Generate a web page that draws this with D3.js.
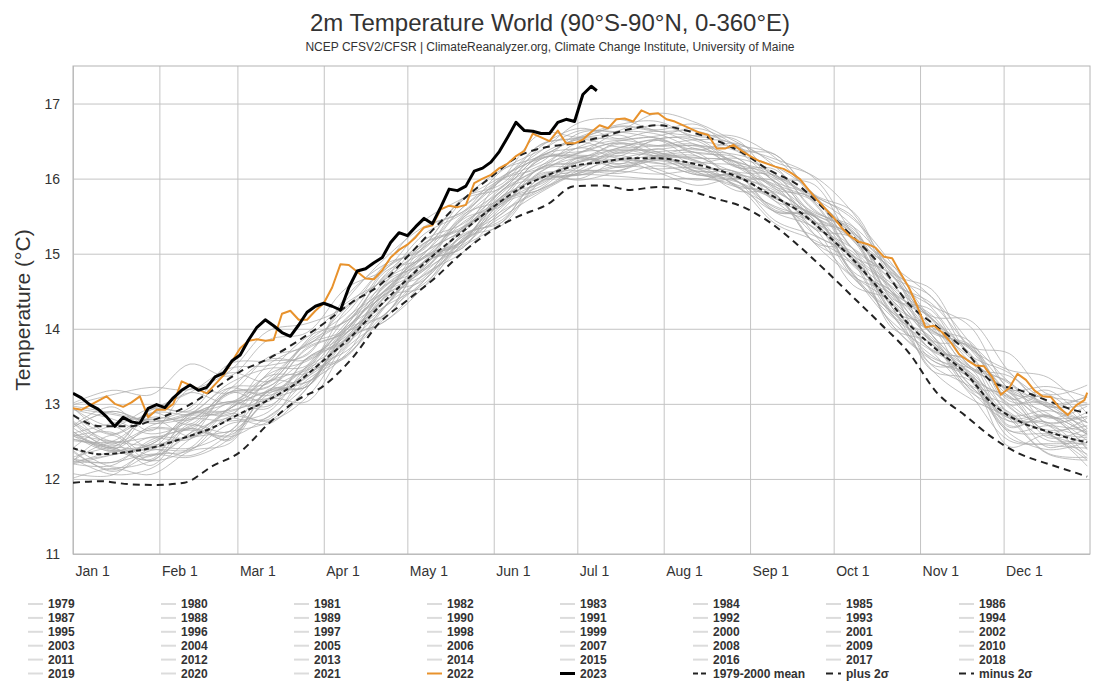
<!DOCTYPE html>
<html>
<head>
<meta charset="utf-8">
<script src="https://cdn.jsdelivr.net/npm/d3@7"></script>
<style>
body { margin:0; background:#fff; font-family:"Liberation Sans", Arial, sans-serif; }
#chart { width:1100px; height:700px; }
.axis text { font-size:14px; fill:#333; }
.axis line { stroke:#c4c4c4; }
.axis .domain { display:none; }
.legend text { font-size:12px; font-weight:bold; fill:#333; }
</style>
</head>
<body>
<div id="chart"></div>
<script>
// ---- data ----
const monthLabels = ['Jan 1','Feb 1','Mar 1','Apr 1','May 1','Jun 1','Jul 1','Aug 1','Sep 1','Oct 1','Nov 1','Dec 1'];
const monthDays = [0,31,59,90,120,151,181,212,243,273,304,334];
const yTicks = [11,12,13,14,15,16,17];

// mean and +/- 2 sigma, every 10 days
const refDays = [0,10,20,30,40,50,60,70,80,90,100,110,120,130,140,150,160,170,180,190,200,210,220,230,240,250,260,270,280,290,300,310,320,330,340,350,360,364];
const mean7900 = [12.41,12.33,12.36,12.43,12.55,12.68,12.87,13.05,13.27,13.58,13.90,14.30,14.66,15.00,15.30,15.60,15.86,16.04,16.17,16.22,16.27,16.27,16.22,16.13,16.00,15.79,15.58,15.27,14.92,14.50,14.06,13.72,13.42,13.00,12.76,12.63,12.52,12.49];
const plus2sd = [12.85,12.70,12.70,12.80,12.95,13.18,13.43,13.60,13.82,14.07,14.35,14.58,14.96,15.35,15.72,16.02,16.30,16.42,16.47,16.56,16.66,16.71,16.64,16.52,16.35,16.11,15.92,15.58,15.22,14.84,14.33,14.03,13.72,13.29,13.18,13.04,12.91,12.88];
const minus2sd = [11.95,11.97,11.93,11.92,11.95,12.17,12.36,12.73,13.04,13.24,13.60,14.08,14.38,14.68,15.02,15.30,15.50,15.65,15.90,15.91,15.85,15.89,15.85,15.74,15.63,15.42,15.12,14.78,14.42,14.06,13.68,13.15,12.85,12.55,12.33,12.20,12.08,12.03];

// 2022 and 2023, every 3 days
const days2022 = d3.range(0, 364, 3).concat([364]);
const temp2022 = [12.94,12.92,12.98,13.04,13.10,13.00,12.96,13.02,13.10,12.82,12.92,12.92,13.00,13.30,13.25,13.19,13.14,13.26,13.38,13.56,
  13.74,13.84,13.86,13.84,13.85,14.20,14.24,14.12,14.12,14.24,14.34,14.55,14.86,14.85,14.76,14.67,14.66,14.78,14.95,15.05,
  15.12,15.22,15.35,15.38,15.59,15.64,15.62,15.65,15.94,16.00,16.05,16.14,16.20,16.30,16.37,16.60,16.55,16.50,16.64,16.47,
  16.47,16.52,16.62,16.71,16.67,16.79,16.80,16.76,16.91,16.86,16.87,16.79,16.76,16.71,16.66,16.61,16.58,16.40,16.40,16.45,
  16.37,16.30,16.24,16.20,16.16,16.13,16.07,15.99,15.85,15.72,15.60,15.48,15.34,15.23,15.16,15.13,15.08,14.96,14.94,14.74,
  14.55,14.30,14.02,14.04,13.95,13.82,13.66,13.58,13.51,13.50,13.35,13.12,13.21,13.40,13.32,13.18,13.10,13.09,12.95,12.85,
  12.98,13.05,13.15];
const days2023 = d3.range(0, 187, 3).concat([188]);
const temp2023 = [13.14,13.08,12.99,12.93,12.83,12.70,12.82,12.76,12.74,12.94,12.99,12.95,13.08,13.18,13.25,13.18,13.22,13.36,13.41,13.57,
  13.65,13.85,14.02,14.12,14.04,13.95,13.90,14.05,14.22,14.30,14.34,14.30,14.25,14.55,14.77,14.80,14.88,14.95,15.15,15.28,
  15.24,15.36,15.47,15.40,15.62,15.86,15.84,15.90,16.10,16.14,16.22,16.36,16.55,16.75,16.64,16.63,16.60,16.60,16.75,16.79,
  16.76,17.12,17.23,17.17];

// older years (grey), every 14 days
const grayDays = d3.range(0, 365, 14);
const grayYears = d3.range(1979, 2022);
const grayTemps = [
  [12.36,12.12,12.38,12.39,12.73,12.82,13.32,13.66,14.42,14.56,15.21,15.53,15.97,16.05,16.17,16.13,16.13,15.84,15.79,15.15,15.02,14.01,13.81,13.16,12.89,12.51,12.53], // 1979
  [12.24,12.58,12.24,12.73,12.51,13.19,13.23,13.99,14.19,14.88,15.08,15.77,15.93,16.25,16.20,16.26,16.14,16.08,15.58,15.51,14.76,14.49,13.53,13.47,12.69,12.84,12.39],
  [12.59,12.50,12.45,12.57,12.93,13.17,13.23,13.87,14.46,14.65,15.28,15.67,15.86,16.12,16.37,16.28,16.06,15.96,15.74,15.50,14.74,14.16,13.80,13.39,12.65,12.60,12.55],
  [12.07,12.05,12.42,12.55,12.63,12.76,13.21,13.88,14.10,14.64,15.26,15.42,15.97,16.10,16.10,16.06,16.10,15.97,15.44,15.24,14.94,14.20,13.52,13.23,12.81,12.71,12.27],
  [12.60,12.38,12.46,12.85,13.03,13.07,13.27,13.98,14.52,14.96,15.12,15.58,16.07,16.05,16.16,16.27,16.24,15.89,15.63,15.43,14.92,14.05,13.59,13.35,12.81,12.33,12.25],
  [12.23,12.22,12.33,12.29,12.53,13.13,13.29,13.64,14.18,14.74,15.16,15.49,15.82,16.09,16.24,16.08,15.91,16.00,15.80,15.14,14.68,14.22,13.71,13.13,12.51,12.47,12.48], // 1984
  [12.01,12.14,12.06,12.37,12.47,13.06,13.03,13.74,14.14,14.72,15.02,15.54,15.84,16.08,16.07,16.17,16.05,15.97,15.55,15.34,14.58,14.36,13.45,13.31,12.43,12.58,12.17],
  [12.38,12.10,12.32,12.38,12.83,12.79,13.41,13.62,14.31,14.68,15.24,15.45,16.01,16.00,16.24,16.20,16.17,15.92,15.76,15.26,14.97,14.18,13.89,13.20,12.97,12.42,12.61],
  [12.27,12.22,12.49,12.67,12.58,13.07,13.49,13.80,14.30,14.96,15.16,15.62,16.10,16.27,16.15,16.29,16.27,16.21,15.70,15.35,15.07,14.62,13.81,13.34,13.09,12.87,12.51],
  [12.77,12.50,12.55,12.53,12.95,13.37,13.41,13.76,14.58,14.88,15.18,15.74,16.01,16.07,16.35,16.35,16.08,16.02,15.84,15.45,14.68,14.22,13.84,13.35,12.61,12.39,12.49],
  [12.23,12.32,12.40,12.31,12.59,13.05,13.47,13.70,14.20,14.64,15.18,15.70,15.86,16.16,16.31,16.12,15.98,16.07,15.79,15.15,14.86,14.38,13.86,13.19,12.77,12.84,12.60], // 1989
  [12.53,12.40,12.26,12.86,12.91,13.07,13.37,13.98,14.50,14.71,15.14,15.81,16.13,16.17,16.27,16.36,16.34,15.97,15.73,15.53,15.18,14.28,13.73,13.57,13.09,12.60,12.45],
  [12.57,12.62,12.31,12.61,13.13,13.15,13.35,14.01,14.45,14.78,15.32,15.76,16.02,16.16,16.39,16.32,16.09,15.89,15.82,15.45,14.72,14.09,13.71,13.42,12.55,12.45,12.41],
  [12.20,12.18,12.52,12.65,12.56,12.83,13.25,13.86,14.10,14.56,15.20,15.38,15.95,16.05,16.03,15.99,16.00,15.90,15.40,15.18,14.88,14.28,13.46,13.07,12.83,12.61,12.25],
  [12.27,12.06,12.14,12.53,12.87,12.77,13.09,13.82,14.36,14.78,15.10,15.42,16.02,15.98,16.10,16.25,16.14,15.91,15.56,15.50,14.89,14.05,13.62,13.42,12.85,12.34,12.29],
  [12.21,12.36,12.43,12.41,12.63,13.17,13.45,13.64,14.29,14.84,15.23,15.57,15.87,16.23,16.25,16.21,16.05,16.05,15.90,15.26,14.70,14.46,13.93,13.33,12.64,12.71,12.63], // 1994
  [12.68,12.44,12.66,12.67,13.01,12.94,13.61,13.86,14.50,14.80,15.35,15.70,16.15,16.22,16.34,16.30,16.30,16.01,15.96,15.33,15.20,14.24,14.03,13.25,13.11,12.55,12.67],
  [12.29,12.42,12.39,12.67,12.53,13.17,13.23,13.94,14.19,14.89,15.08,15.70,15.90,16.28,16.15,16.24,16.10,16.06,15.56,15.50,14.72,14.34,13.59,13.39,12.77,12.75,12.31],
  [12.53,12.42,12.24,12.41,12.93,13.17,13.36,13.78,14.48,14.94,15.16,15.84,16.03,16.23,16.41,16.51,16.23,16.18,16.04,15.67,14.94,14.49,14.14,13.67,12.95,12.75,12.83],
  [12.69,12.90,12.76,12.87,12.93,13.52,13.79,14.10,14.46,15.00,15.50,15.99,16.14,16.43,16.58,16.35,16.28,16.23,15.96,15.39,14.94,14.54,13.93,13.25,12.81,12.85,12.59],
  [12.43,12.16,12.24,12.61,12.81,12.73,13.21,13.93,14.30,14.60,15.14,15.65,16.05,16.11,16.11,16.31,16.22,15.98,15.61,15.42,15.06,14.18,13.65,13.37,13.00,12.61,12.33], // 1999
  [12.24,12.48,12.18,12.71,12.63,13.30,13.29,13.87,14.30,14.90,15.18,15.68,15.96,16.29,16.19,16.40,16.15,16.09,15.70,15.51,14.84,14.45,13.72,13.57,12.71,12.83,12.41],
  [12.63,12.36,12.56,12.57,13.15,13.03,13.60,13.84,14.51,14.90,15.42,15.71,16.14,16.22,16.48,16.33,16.40,16.16,16.00,15.50,15.22,14.42,14.15,13.50,13.17,12.62,12.81],
  [12.58,12.38,12.87,12.85,12.89,13.16,13.75,13.95,14.44,15.14,15.34,15.76,16.26,16.36,16.38,16.39,16.44,16.28,15.87,15.49,15.20,14.76,13.93,13.47,13.21,12.99,12.64],
  [12.75,12.40,12.71,12.87,13.21,13.11,13.43,14.04,14.70,15.02,15.32,15.76,16.26,16.31,16.30,16.53,16.50,16.16,15.89,15.70,15.22,14.38,13.97,13.75,13.19,12.72,12.57],
  [12.51,12.50,12.80,12.57,12.81,13.39,13.57,13.90,14.42,15.09,15.36,15.67,16.09,16.35,16.47,16.29,16.21,16.27,16.06,15.41,14.98,14.56,14.13,13.37,12.85,12.91,12.75], // 2004
  [12.84,12.59,12.82,12.79,13.15,13.22,13.73,13.98,14.76,14.94,15.48,15.84,16.31,16.41,16.51,16.44,16.45,16.15,16.12,15.57,15.30,14.48,14.19,13.56,13.27,12.83,12.83],
  [12.41,12.70,12.42,12.87,12.85,13.29,13.49,14.14,14.51,15.02,15.32,15.85,16.14,16.48,16.34,16.51,16.34,16.28,15.86,15.74,14.97,14.72,13.85,13.77,12.99,13.12,12.67],
  [12.94,12.86,12.77,12.86,13.27,13.47,13.51,14.25,14.66,14.96,15.48,15.90,16.18,16.34,16.50,16.54,16.30,16.09,16.04,15.69,14.94,14.32,13.99,13.61,12.87,12.65,12.71],
  [12.20,12.32,12.46,12.79,12.77,12.89,13.51,14.02,14.36,14.82,15.46,15.64,16.17,16.41,16.27,16.31,16.35,16.22,15.78,15.43,15.26,14.52,13.84,13.47,13.19,12.95,12.59],
  [12.57,12.42,12.30,12.83,13.03,12.97,13.45,14.08,14.58,14.80,15.36,15.89,16.31,16.29,16.41,16.53,16.53,16.18,15.92,15.73,15.36,14.48,13.95,13.79,13.29,12.95,12.69], // 2009
  [12.71,12.96,12.64,13.20,13.15,13.62,13.77,14.28,14.68,15.26,15.54,16.02,16.29,16.53,16.53,16.63,16.45,16.37,15.96,15.75,15.06,14.70,13.99,13.75,13.04,13.01,12.61],
  [12.75,12.48,12.68,12.69,13.15,13.23,13.61,13.94,14.63,14.88,15.52,15.73,16.28,16.28,16.46,16.43,16.43,16.22,16.06,15.52,15.33,14.40,14.25,13.49,13.29,12.74,12.89],
  [12.63,12.42,12.92,12.89,13.01,13.33,13.79,13.99,14.60,15.18,15.40,15.84,16.32,16.52,16.42,16.44,16.52,16.45,15.94,15.55,15.36,14.78,14.09,13.49,13.37,13.01,12.75],
  [12.92,12.80,12.60,12.77,13.19,13.59,13.59,14.04,14.72,15.14,15.34,16.00,16.27,16.35,16.61,16.59,16.39,16.32,16.16,15.79,15.06,14.60,14.34,13.73,13.15,12.81,12.97],
  [12.69,12.90,12.74,12.81,12.93,13.41,13.89,14.10,14.56,15.00,15.62,16.00,16.22,16.61,16.62,16.53,16.38,16.47,16.16,15.59,15.28,14.78,14.29,13.63,13.19,13.23,13.09], // 2014
  [12.94,12.70,12.94,12.91,13.41,13.30,13.83,14.20,14.82,15.08,15.62,15.98,16.45,16.55,16.69,16.63,16.63,16.45,16.32,15.79,15.56,14.74,14.53,13.77,13.67,13.13,13.25],
  [13.01,13.18,13.12,13.53,13.37,13.85,13.95,14.54,14.79,15.34,15.56,16.11,16.38,16.64,16.62,16.71,16.56,16.52,16.02,15.92,15.17,14.80,14.03,13.83,13.07,13.18,12.75],
  [12.97,12.88,12.79,12.95,13.53,13.57,13.65,14.43,14.86,15.06,15.72,16.12,16.30,16.56,16.72,16.76,16.52,16.41,16.26,16.01,15.26,14.64,14.31,14.03,13.19,12.99,13.09],
  [12.61,12.74,12.86,13.15,13.01,13.29,13.85,14.34,14.66,15.10,15.72,15.88,16.43,16.67,16.53,16.57,16.67,16.44,16.02,15.77,15.46,14.86,14.14,13.73,13.45,13.35,12.87],
  [12.95,12.60,12.92,13.15,13.47,13.51,13.67,14.38,14.94,15.36,15.56,16.00,16.60,16.55,16.64,16.87,16.74,16.49,16.22,16.03,15.54,14.72,14.17,14.11,13.43,12.97,12.99], // 2019
  [12.99,13.12,13.22,13.19,13.43,13.97,14.07,14.30,14.86,15.44,15.74,16.03,16.37,16.75,16.79,16.63,16.57,16.56,16.28,15.75,15.28,14.84,14.43,13.81,13.15,13.09,13.01],
  [12.87,12.46,12.88,12.73,13.21,13.27,13.81,14.12,14.79,15.12,15.74,15.93,16.46,16.54,16.70,16.65,16.72,16.38,16.32,15.78,15.49,14.70,14.43,13.65,13.41,12.96,13.11]  // 2021
];

const legendNames = grayYears.map(String).concat(['2022','2023','1979-2000 mean','plus 2σ','minus 2σ']);

function TempChart(_) { // factory function

	let _xDomain = [0, 365];
	let _yDomain = [11, 17.5];

	function exports(d, i) {
		const root = this;
		const width = 1100;
		const height = 700;
		const margin = {t:66, r:10, b:146, l:73};
		const w = width - margin.l - margin.r;
		const h = height - margin.t - margin.b;

		const svg = d3.select(root).append('svg')
			.attr('width', width)
			.attr('height', height);

		svg.append('text')
			.attr('x', width/2).attr('y', 31)
			.attr('text-anchor', 'middle')
			.style('font-size', '24px').style('fill', '#333')
			.text('2m Temperature World (90°S-90°N, 0-360°E)');
		svg.append('text')
			.attr('x', width/2).attr('y', 51)
			.attr('text-anchor', 'middle')
			.style('font-size', '12px').style('fill', '#333')
			.text('NCEP CFSV2/CFSR | ClimateReanalyzer.org, Climate Change Institute, University of Maine');
		svg.append('text')
			.attr('transform', `translate(30,${margin.t + h/2}) rotate(-90)`)
			.attr('text-anchor', 'middle')
			.style('font-size', '21px').style('fill', '#333')
			.text('Temperature (°C)');

		const plot = svg.append('g')
			.attr('transform', `translate(${margin.l},${margin.t})`);

		const scaleX = d3.scaleLinear().domain(_xDomain).range([0, w]);
		const scaleY = d3.scaleLinear().domain(_yDomain).range([h, 0]);

		//Axes double as the grid
		const axisY = d3.axisLeft(scaleY)
			.tickValues(yTicks)
			.tickSize(-w)
			.tickPadding(13)
			.tickFormat(d3.format('d'));
		const axisX = d3.axisBottom(scaleX)
			.tickValues(monthDays)
			.tickSize(-h)
			.tickPadding(12)
			.tickFormat((v, k) => monthLabels[k]);

		plot.append('g').attr('class', 'axis axis-y').call(axisY);
		plot.append('g').attr('class', 'axis axis-x')
			.attr('transform', `translate(0,${h})`)
			.call(axisX)
			.selectAll('text')
			.attr('text-anchor', 'start')
			.attr('x', 2);

		plot.append('rect')
			.attr('width', w).attr('height', h)
			.style('fill', 'none').style('stroke', '#b4b4b4');

		svg.append('clipPath').attr('id', 'clip')
			.append('rect').attr('width', w).attr('height', h);

		const lines = plot.append('g').attr('clip-path', 'url(#clip)');

		d.forEach(s => {
			const line = d3.line()
				.x((v, k) => scaleX(s.days[k]))
				.y(v => scaleY(v))
				.curve(s.curve || d3.curveLinear);
			lines.append('path')
				.datum(s.temps)
				.attr('class', 'series')
				.attr('d', line)
				.style('fill', 'none')
				.style('stroke', s.color)
				.style('stroke-width', s.width)
				.style('stroke-opacity', s.opacity || 1)
				.style('stroke-dasharray', s.dash || null)
				.style('stroke-linejoin', 'round');
		});

		// legend, 8 columns, row-major
		const legend = svg.append('g').attr('class', 'legend');
		const item = legend.selectAll('.item')
			.data(legendNames)
			.enter().append('g')
			.attr('class', 'item')
			.attr('transform', (n, k) => `translate(${48 + (k % 8) * 133},${604 + Math.floor(k / 8) * 13.9})`);

		item.append('line')
			.attr('x1', -20).attr('x2', -5)
			.style('stroke', n => n === '2022' ? '#e8922c' : n === '2023' ? '#000' : n.length > 4 ? '#222' : '#dcdcdc')
			.style('stroke-width', n => n === '2023' ? 3 : 2)
			.style('stroke-dasharray', n => n === '1979-2000 mean' ? '5,3' : n.length > 4 ? '7,5' : null);
		item.append('text')
			.attr('x', 0).attr('dy', '0.35em')
			.text(n => n);
	}

	exports.xDomain = function(_) {
		if (typeof _ === "undefined") return _xDomain
		_xDomain = _;
		return this
	}

	exports.yDomain = function(_) {
		if (typeof _ === "undefined") return _yDomain
		_yDomain = _;
		return this
	}

	return exports;
}

const series = grayTemps.map(t => ({days: grayDays, temps: t, color: '#a9a9a9', width: 0.8, opacity: 0.9, curve: d3.curveCatmullRom}))
	.concat([
		{days: refDays, temps: minus2sd, color: '#222', width: 2, dash: '7,5', curve: d3.curveMonotoneX},
		{days: refDays, temps: plus2sd, color: '#222', width: 2, dash: '7,5', curve: d3.curveMonotoneX},
		{days: refDays, temps: mean7900, color: '#222', width: 2, dash: '5,3', curve: d3.curveMonotoneX},
		{days: days2022, temps: temp2022, color: '#e8922c', width: 2},
		{days: days2023, temps: temp2023, color: '#000', width: 3}
	]);

const chart = TempChart()
	.xDomain([0, 365])
	.yDomain([11, 17.5]);

d3.select('#chart')
	.datum(series)
	.each(chart);
</script>
</body>
</html>
